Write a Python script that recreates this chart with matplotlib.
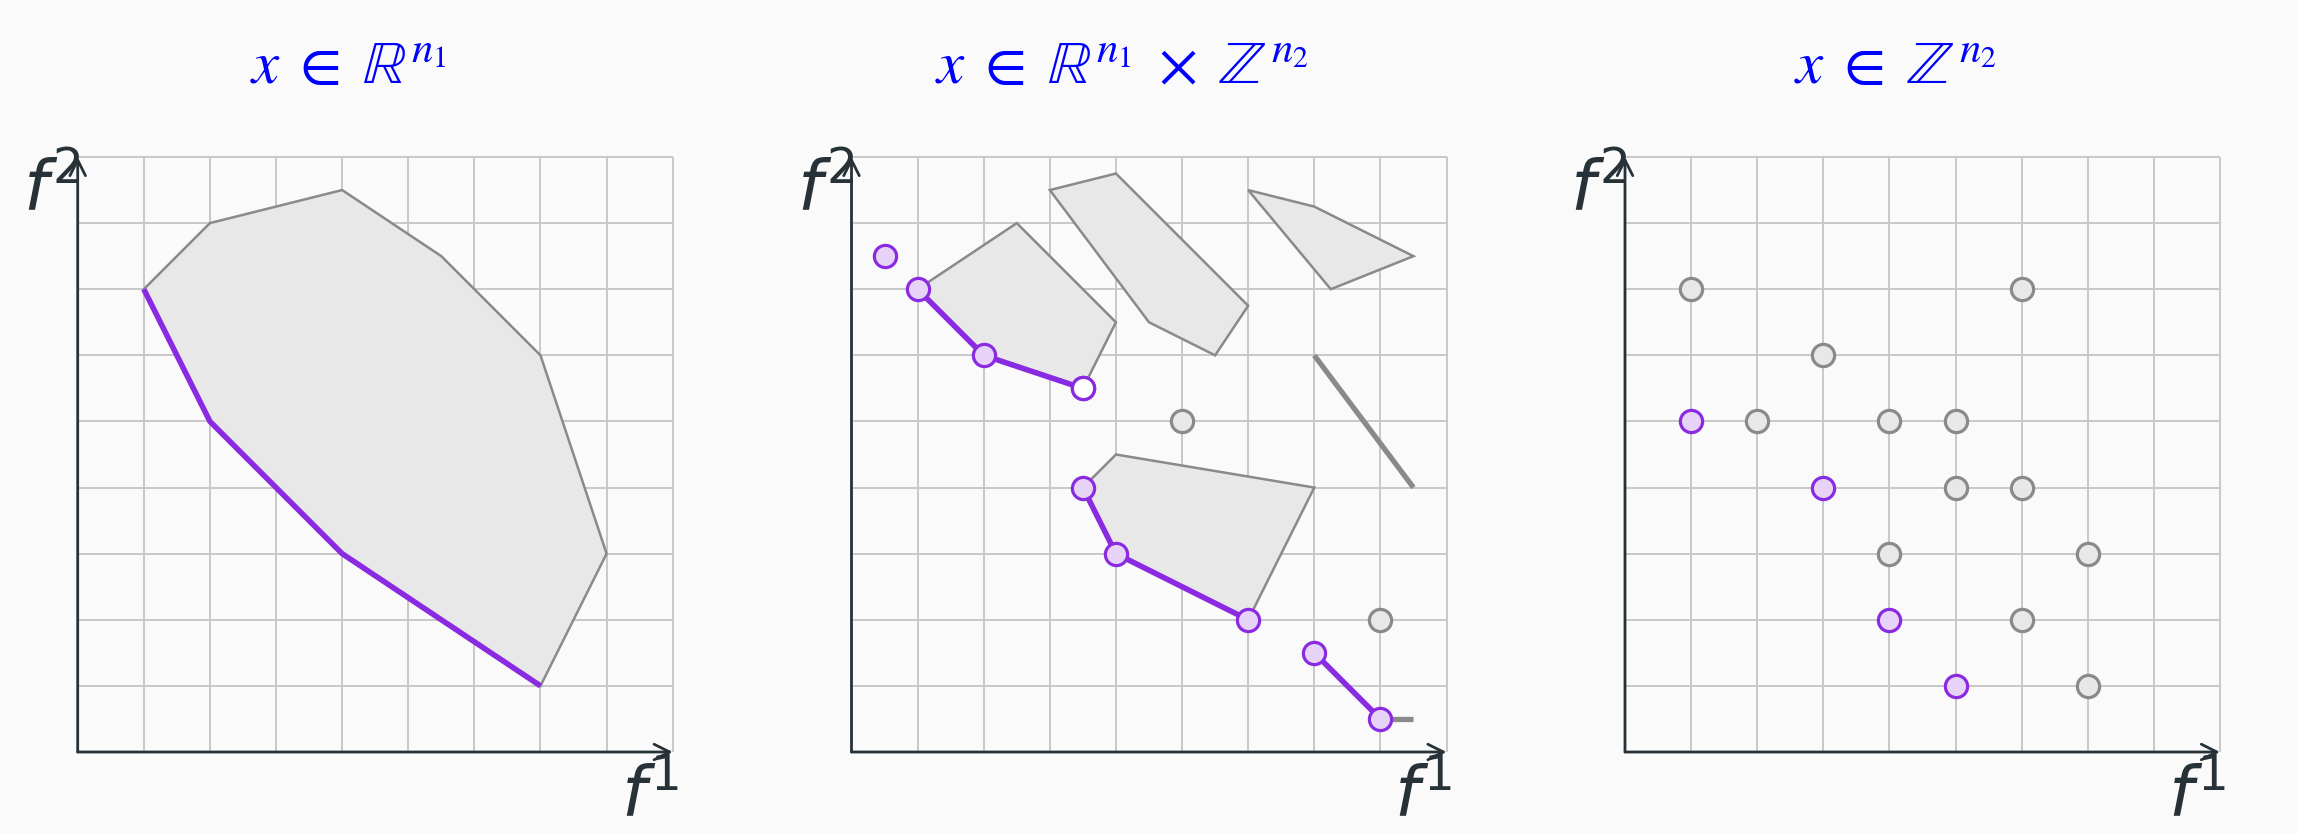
import matplotlib
matplotlib.use("Agg")
import matplotlib.pyplot as plt

plt.rcParams['mathtext.fontset'] = 'dejavusans'

# panel 1: continuous feasible region
p1_region_x = [1, 2, 4, 5.5, 7, 8, 7, 4, 2]
p1_region_y = [7, 8, 8.5, 7.5, 6, 3, 1, 3, 5]
p1_front_x = [1, 2, 4, 7]
p1_front_y = [7, 5, 3, 1]

# panel 2: mixed integer regions
p2_regions = [
    ([1, 2.5, 4, 3.5, 2], [7, 8, 6.5, 5.5, 6]),
    ([3, 4, 6, 5.5, 4.5], [8.5, 8.75, 6.75, 6, 6.5]),
    ([6, 7, 8.5, 7.25], [8.5, 8.25, 7.5, 7]),
    ([3.5, 4, 7, 6, 4], [4, 4.5, 4, 2, 3]),
]
p2_segments = [([7, 8.5], [6, 4]), ([8, 8.5], [0.5, 0.5])]
p2_gray_x = [5, 8]
p2_gray_y = [5, 2]
p2_fronts = [
    ([1, 2, 3.5], [7, 6, 5.5]),
    ([3.5, 4, 6], [4, 3, 2]),
    ([7, 8], [1.5, 0.5]),
]
p2_lone_x = [0.5]
p2_lone_y = [7.5]
p2_open_x = [3.5]
p2_open_y = [5.5]

# panel 3: integer points
p3_gray_x = [1, 6, 3, 2, 4, 5, 5, 6, 4, 7, 6, 7]
p3_gray_y = [7, 7, 6, 5, 5, 5, 4, 4, 3, 3, 2, 1]
p3_front_x = [1, 3, 4, 5]
p3_front_y = [5, 4, 2, 1]

titles = [r'$x\;\in\;\mathbb{R}^{n_1}$',
          r'$x\;\in\;\mathbb{R}^{n_1}\;\times\;\mathbb{Z}^{n_2}$',
          r'$x\;\in\;\mathbb{Z}^{n_2}$']

bg = '#fafafa'
grid_c = '#c8c8c8'
axis_c = '#263238'
purple = '#8a2be2'
purple_fill = '#e6d3f7'
gray_edge = '#8a8a8a'
gray_fill = '#e8e8e8'

fig = plt.figure(figsize=(22.98, 8.33), dpi=100, facecolor=bg)
lefts = [77.7 / 2298, 851.5 / 2298, 1625 / 2298]
axes = [fig.add_axes([l, 81 / 833, 595 / 2298, 595 / 833]) for l in lefts]


def setup(ax, title):
    ax.set_facecolor(bg)
    ax.set_xlim(0, 9)
    ax.set_ylim(0, 9)
    for s in ax.spines.values():
        s.set_visible(False)
    ax.set_xticks([])
    ax.set_yticks([])
    ax.vlines(range(1, 10), 0, 9, color=grid_c, lw=1.4, clip_on=False, zorder=0)
    ax.hlines(range(1, 10), 0, 9, color=grid_c, lw=1.4, clip_on=False, zorder=0)
    arrow = dict(arrowstyle='->', color=axis_c, lw=2, mutation_scale=28, shrinkA=0, shrinkB=0)
    ax.annotate('', xy=(9.0, 0), xytext=(0, 0), arrowprops=arrow, annotation_clip=False, zorder=5)
    ax.annotate('', xy=(0, 9.0), xytext=(0, 0), arrowprops=arrow, annotation_clip=False, zorder=5)
    ax.text(0.005, 1.0, r'$f^{2}$', transform=ax.transAxes, ha='right', va='top',
            fontsize=50, color=axis_c)
    ax.text(1.01, -0.02, r'$f^{1}$', transform=ax.transAxes, ha='right', va='top',
            fontsize=50, color=axis_c)
    # title centred over the panel incl. the f2 label
    ax.text(0.455, 1.15, title, transform=ax.transAxes, ha='center', va='center',
            fontsize=44, color='#0000ff', math_fontfamily='stix')


def circles(ax, xs, ys, face, edge):
    ax.plot(xs, ys, 'o', ms=16, mfc=face, mec=edge, mew=2.3, ls='none', zorder=6, clip_on=False)


for ax, t in zip(axes, titles):
    setup(ax, t)

# panel 1
ax = axes[0]
ax.fill(p1_region_x, p1_region_y, facecolor=gray_fill, edgecolor=gray_edge, lw=1.8, zorder=2)
ax.plot(p1_front_x, p1_front_y, color=purple, lw=4, zorder=3, solid_capstyle='butt')

# panel 2
ax = axes[1]
for xs, ys in p2_regions:
    ax.fill(xs, ys, facecolor=gray_fill, edgecolor=gray_edge, lw=1.8, zorder=2)
for xs, ys in p2_segments:
    ax.plot(xs, ys, color=gray_edge, lw=3.8, zorder=2, solid_capstyle='butt')
circles(ax, p2_gray_x, p2_gray_y, gray_fill, gray_edge)
for xs, ys in p2_fronts:
    ax.plot(xs, ys, color=purple, lw=4, zorder=4)
    circles(ax, xs, ys, purple_fill, purple)
circles(ax, p2_lone_x, p2_lone_y, purple_fill, purple)
circles(ax, p2_open_x, p2_open_y, 'white', purple)

# panel 3
ax = axes[2]
circles(ax, p3_gray_x, p3_gray_y, gray_fill, gray_edge)
circles(ax, p3_front_x, p3_front_y, purple_fill, purple)

fig.savefig('out.png', dpi=100, facecolor=bg)
